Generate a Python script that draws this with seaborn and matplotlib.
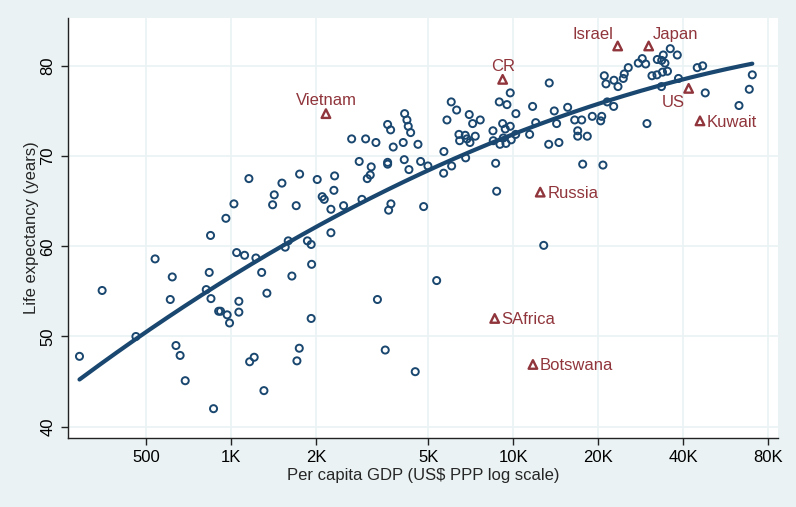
import numpy as np
import pandas as pd
import matplotlib
matplotlib.use("Agg")
import matplotlib.pyplot as plt
import seaborn as sns
from matplotlib.ticker import FixedLocator, NullLocator

# per capita GDP (US$ PPP) and life expectancy
gdp = [291, 350, 461, 539, 610, 620, 639, 661, 689, 818,
       838, 847, 850, 868, 905, 919, 960, 970, 989, 1025,
       1048, 1067, 1067, 1118, 1165, 1209, 1226, 1285, 1309, 1341,
       1158, 1405, 1424, 1516, 1557, 1596, 1644, 1703, 1713, 1746,
       1751, 1866, 1924, 1931, 1924, 2021, 2105, 2140, 2260, 2260,
       2329, 2316, 2506, 2676, 2846, 2910, 2999, 3039, 3114, 3139,
       3262, 3302, 3519, 3588, 3677, 3588, 3588, 3617, 3686, 3756,
       4075, 4109, 4122, 4200, 4245, 4329, 4269, 4494, 4595, 4696,
       4813, 4984, 5352, 5665, 5678, 5820, 6027, 6046, 6298, 6418,
       6454, 6756, 6850, 7019, 7330, 6778, 6979, 7176, 7634, 8469,
       8489, 8657, 8729, 8916, 9165, 9362, 9750, 9210, 8965, 9416,
       9831, 10190, 9492, 9750, 10210, 11420, 11700, 12000, 12810, 13340,
       13400, 13960, 14230, 14500, 15570, 16490, 16900, 16900, 17460, 17600,
       18270, 19030, 20380, 20550, 20760, 20990, 21280, 21500, 22660, 22710,
       23470, 24500, 24700, 25520, 27690, 28600, 29410, 29720, 30960, 32250,
       33730, 35130, 32330, 33950, 33510, 34420, 35940, 38060, 38430, 33450,
       44780, 46800, 47800, 62930, 68440, 70150]
life = [47.8, 55.1, 50.0, 58.6, 54.1, 56.6, 49.0, 47.9, 45.1, 55.2,
        57.1, 61.2, 54.2, 42.0, 52.8, 52.8, 63.1, 52.4, 51.5, 64.7,
        59.3, 53.9, 52.7, 59.0, 47.2, 47.7, 58.7, 57.1, 44.0, 54.8,
        67.5, 64.6, 65.7, 67.0, 59.9, 60.6, 56.7, 64.5, 47.3, 48.7,
        68.0, 60.6, 60.2, 58.0, 52.0, 67.4, 65.5, 65.2, 61.5, 64.1,
        67.8, 66.2, 64.5, 71.9, 69.4, 65.2, 71.9, 67.5, 67.9, 68.8,
        71.5, 54.1, 48.5, 73.5, 72.9, 69.3, 69.1, 64.0, 64.7, 71.0,
        71.5, 69.6, 74.7, 74.0, 73.3, 72.6, 68.5, 46.1, 71.3, 69.4,
        64.4, 68.9, 56.2, 68.1, 70.5, 74.0, 76.0, 68.9, 75.1, 72.4,
        71.7, 72.3, 71.9, 71.5, 72.2, 69.8, 74.6, 73.6, 74.0, 72.8,
        71.7, 69.2, 66.1, 76.0, 73.6, 73.0, 73.3, 72.0, 71.3, 71.4,
        71.8, 72.4, 75.7, 77.0, 74.7, 72.4, 75.5, 73.7, 60.1, 71.3,
        78.1, 75.0, 73.6, 71.5, 75.4, 74.0, 72.8, 72.2, 74.0, 69.1,
        72.2, 74.4, 73.9, 74.4, 69.0, 78.9, 78.0, 76.0, 75.5, 78.4,
        77.7, 78.6, 79.1, 79.8, 80.3, 80.8, 80.2, 73.6, 78.9, 79.0,
        79.3, 79.4, 80.7, 81.2, 80.6, 80.3, 81.9, 81.2, 78.6, 77.7,
        79.8, 80.0, 77.0, 75.6, 77.4, 79.0]

# highlighted countries
names = ["Vietnam", "CR", "Israel", "Japan", "US", "Kuwait", "Russia", "SAfrica", "Botswana"]
name_gdp = [2170, 9165, 23410, 30140, 41750, 45790, 12450, 8590, 11730]
name_life = [74.7, 78.5, 82.2, 82.2, 77.5, 73.9, 66.0, 52.0, 46.9]

xticks = [500, 1000, 2000, 5000, 10000, 20000, 40000, 80000]
xtick_labels = ["500", "1K", "2K", "5K", "10K", "20K", "40K", "80K"]
yticks = [40, 50, 60, 70, 80]

navy = "#1a476f"
maroon = "#90353b"
bg = "#eaf2f3"

sns.set_theme(style="white")
plt.rcParams["font.family"] = ["Liberation Sans", "DejaVu Sans"]

df = pd.DataFrame({"gdp": gdp, "life": life})
labelled = pd.DataFrame({"name": names, "gdp": name_gdp, "life": name_life})

# quadratic fit in log GDP over all countries
all_gdp = np.array(gdp + name_gdp, dtype=float)
all_life = np.array(life + name_life, dtype=float)
coef = np.polyfit(np.log10(all_gdp), all_life, 2)
xs = np.geomspace(all_gdp.min(), all_gdp.max(), 200)
fit = pd.DataFrame({"gdp": xs, "life": np.polyval(coef, np.log10(xs))})

fig = plt.figure(figsize=(7.96, 5.07), dpi=100, facecolor=bg)
ax = fig.add_axes([68 / 796, 1 - 438 / 507, 710 / 796, 420 / 507])
ax.set_facecolor("white")
ax.set_xscale("log")

sns.scatterplot(data=df, x="gdp", y="life", ax=ax, marker="o", s=26,
                fc="none", ec=navy, linewidth=1.4, zorder=3)
sns.scatterplot(data=labelled, x="gdp", y="life", ax=ax, marker="^", s=38,
                fc="none", ec=maroon, linewidth=1.7, zorder=3)
sns.lineplot(data=fit, x="gdp", y="life", ax=ax, color=navy, linewidth=3.0, zorder=4)

# label positions around the triangles (Stata-like clock positions)
offsets = {
    "Vietnam": ((0, 4), "center", "bottom"),
    "CR": ((0, 4), "center", "bottom"),
    "Israel": ((-3, 3), "right", "bottom"),
    "Japan": ((3, 3), "left", "bottom"),
    "US": ((-3, -5), "right", "top"),
    "Kuwait": ((5, -1), "left", "center"),
    "Russia": ((5, -1), "left", "center"),
    "SAfrica": ((5, -1), "left", "center"),
    "Botswana": ((5, -1), "left", "center"),
}
for n, gx, ly in zip(names, name_gdp, name_life):
    off, ha, va = offsets[n]
    ax.annotate(n, (gx, ly), xytext=off, textcoords="offset points",
                ha=ha, va=va, color=maroon, fontsize=12, zorder=5)

ax.set_xlim(265, 86500)
ax.set_ylim(38.75, 85.3)
ax.xaxis.set_major_locator(FixedLocator(xticks))
ax.xaxis.set_minor_locator(NullLocator())
ax.set_xticklabels(xtick_labels)
ax.set_yticks(yticks)
for lab in ax.get_yticklabels():
    lab.set_rotation(90)
    lab.set_va("center")

ax.grid(True, color=bg, linewidth=1.2)
ax.set_axisbelow(True)
for side in ["top", "right"]:
    ax.spines[side].set_visible(False)
for side in ["left", "bottom"]:
    ax.spines[side].set_color("#222222")
    ax.spines[side].set_linewidth(1.0)
ax.tick_params(axis="both", which="major", direction="out", length=5,
               width=1.0, color="#222222", labelsize=12, labelcolor="black", pad=4,
               bottom=True, left=True)

ax.set_xlabel("Per capita GDP (US$ PPP log scale)", fontsize=12, labelpad=2)
ax.set_ylabel("Life expectancy (years)", fontsize=12, labelpad=1)

fig.savefig("out.png", dpi=100, facecolor=bg)
